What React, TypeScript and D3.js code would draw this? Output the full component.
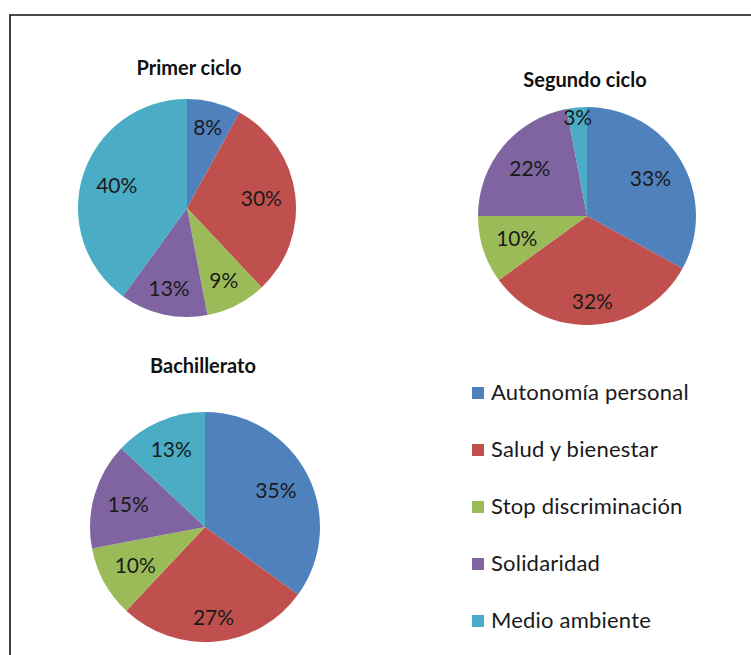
import * as d3 from 'd3'

const categories = [
  'Autonomía personal',
  'Salud y bienestar',
  'Stop discriminación',
  'Solidaridad',
  'Medio ambiente',
]
const primerCiclo = [8, 30, 9, 13, 40]
const segundoCiclo = [33, 32, 10, 22, 3]
const bachillerato = [35, 27, 10, 15, 13]
const titles = ['Primer ciclo', 'Segundo ciclo', 'Bachillerato']

const colors = ['#4F81BD', '#C0504D', '#9BBB59', '#8064A2', '#4BACC6']

const width = 751
const height = 655
const font = 'Lato, "Open Sans", sans-serif'
const labelSize = 21

// pie layout: center, radius, title position
const layout = [
  { cx: 187, cy: 208, r: 109, tx: 189, ty: 75 },
  { cx: 587, cy: 216, r: 109, tx: 585, ty: 87 },
  { cx: 205, cy: 527, r: 115, tx: 203, ty: 373 },
]

type PieProps = Readonly<{
  values: number[]
  title: string
  cx: number
  cy: number
  r: number
  tx: number
  ty: number
}>

function Pie({ values, title, cx, cy, r, tx, ty }: PieProps) {
  const arcs = d3
    .pie<number>()
    .sort(null)
    .value((d) => d)(values)
  const arc = d3.arc<d3.PieArcDatum<number>>().innerRadius(0).outerRadius(r)

  // best-fit style: push the label towards the rim, keeping its box inside
  const labelPos = (a: d3.PieArcDatum<number>, text: string) => {
    const mid = (a.startAngle + a.endAngle) / 2
    const s = Math.sin(mid)
    const c = Math.cos(mid)
    const hw = ((text.length - 1) * 0.58 + 0.83) * labelSize * 0.5
    const hh = labelSize * 0.5
    let d = r - 12 - (hw * Math.abs(s) + hh * Math.abs(c))
    if (a.value < 5) d = r - 10
    return [s * d, -c * d]
  }

  return (
    <g>
      <text x={tx} y={ty} textAnchor="middle" fontWeight="bold" fontSize={20} fill="#111">
        {title}
      </text>
      <g transform={`translate(${cx},${cy})`}>
        {arcs.map((a, i) => (
          <path key={i} d={arc(a)!} fill={colors[i]} />
        ))}
        {arcs.map((a, i) => {
          const label = `${a.value}%`
          const [x, y] = labelPos(a, label)
          return (
            <text
              key={i}
              x={x}
              y={y}
              dy="0.36em"
              textAnchor="middle"
              fontSize={labelSize}
              fill="#1a1a1a"
            >
              {label}
            </text>
          )
        })}
      </g>
    </g>
  )
}

export default function App() {
  const series = [primerCiclo, segundoCiclo, bachillerato]
  const legendY = d3
    .scalePoint<string>()
    .domain(categories)
    .range([392, 620])

  return (
    <svg
      width={width}
      height={height}
      style={{ position: 'absolute', left: 0, top: 0, background: '#fff' }}
      fontFamily={font}
    >
      <path d={`M10,${height}V15H${width}`} fill="none" stroke="#111" strokeWidth={1.6} />
      {series.map((values, i) => (
        <Pie key={i} values={values} title={titles[i]} {...layout[i]} />
      ))}
      <g className="legend">
        {categories.map((c, i) => (
          <g key={c} transform={`translate(472, ${legendY(c)})`}>
            <rect x={0} y={-5} width={12} height={12} fill={colors[i]} />
            <text x={19} dy="0.36em" fontSize={22} letterSpacing={0.2} fill="#1a1a1a">
              {c}
            </text>
          </g>
        ))}
      </g>
    </svg>
  )
}
